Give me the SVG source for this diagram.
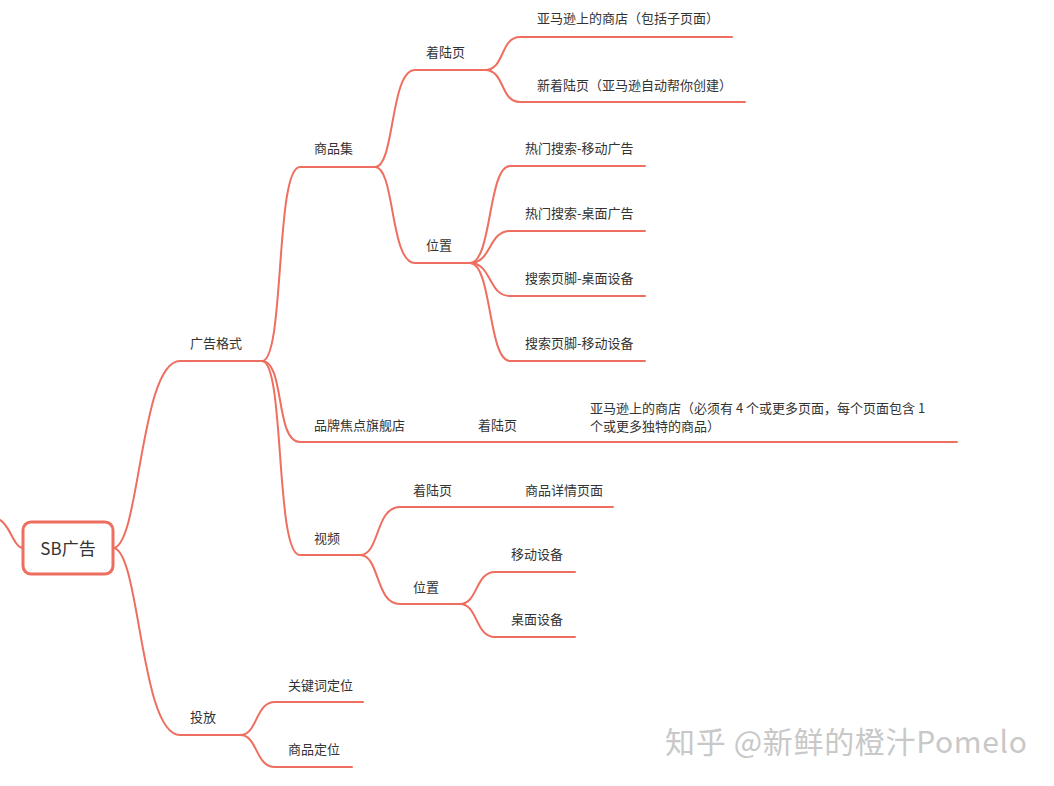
<svg xmlns="http://www.w3.org/2000/svg" width="1054" height="786" viewBox="0 0 1054 786">
<style>
.l{fill:none;stroke:#ee6e60;stroke-width:2;stroke-linecap:round}
.t{font-family:"Noto Sans CJK SC","Noto Sans",sans-serif;font-size:13px;fill:#333}
</style>
<rect width="1054" height="786" fill="#fff"/>
<g id="connectors">
<path class="l" d="M0,520 C10,525 14,548 23,548"/>
<path class="l" d="M113,548 C140,548 140,361 180,361 L262,361"/>
<path class="l" d="M113,548 C140,548 140,735 180,735 L240,735"/>
<path class="l" d="M262,361 C285,361 275,167 300,167 L375,167"/>
<path class="l" d="M262,361 C285,361 275,442 300,442 L957,442"/>
<path class="l" d="M262,361 C285,361 275,555 300,555 L360,555"/>
<path class="l" d="M375,167 C395,167 390,70 415,70 L485,70"/>
<path class="l" d="M375,167 C395,167 390,263 415,263 L470,263"/>
<path class="l" d="M485,70 C505,70 500,37 520,37 L732,37"/>
<path class="l" d="M485,70 C505,70 500,102 520,102 L745,102"/>
<path class="l" d="M470,263 C492,263 488,166 510,166 L645,166"/>
<path class="l" d="M470,263 C492,263 488,231 510,231 L645,231"/>
<path class="l" d="M470,263 C492,263 488,296 510,296 L645,296"/>
<path class="l" d="M470,263 C492,263 488,361 510,361 L645,361"/>
<path class="l" d="M360,555 C380,555 375,507 400,507 L613,507"/>
<path class="l" d="M360,555 C380,555 375,604 400,604 L460,604"/>
<path class="l" d="M460,604 C478,604 475,572 495,572 L575,572"/>
<path class="l" d="M460,604 C478,604 475,637 495,637 L575,637"/>
<path class="l" d="M240,735 C258,735 255,702 275,702 L363,702"/>
<path class="l" d="M240,735 C258,735 255,767 275,767 L352,767"/>
</g>
<g id="root"><rect x="23" y="522" width="90" height="52" rx="8" fill="#fff" stroke="#ee6e60" stroke-width="3"/><text x="68" y="555" text-anchor="middle" style="font-family:'Noto Sans CJK SC',sans-serif;font-size:17px;fill:#333">SB广告</text></g>
<g id="n1"><text class="t" x="190" y="348">广告格式</text></g>
<g id="n2"><text class="t" x="190" y="722">投放</text></g>
<g id="n3"><text class="t" x="314" y="153">商品集</text></g>
<g id="n4"><text class="t" x="314" y="430">品牌焦点旗舰店</text></g>
<g id="n5"><text class="t" x="314" y="543">视频</text></g>
<g id="n6"><text class="t" x="426" y="57">着陆页</text></g>
<g id="n7"><text class="t" x="426" y="250">位置</text></g>
<g id="n8"><text class="t" x="537" y="23">亚马逊上的商店（包括子页面）</text></g>
<g id="n9"><text class="t" x="537" y="90">新着陆页（亚马逊自动帮你创建）</text></g>
<g id="n10"><text class="t" x="525" y="153">热门搜索-移动广告</text></g>
<g id="n11"><text class="t" x="525" y="218">热门搜索-桌面广告</text></g>
<g id="n12"><text class="t" x="525" y="283">搜索页脚-桌面设备</text></g>
<g id="n13"><text class="t" x="525" y="348">搜索页脚-移动设备</text></g>
<g id="n14"><text class="t" x="478" y="430">着陆页</text></g>
<g id="n15"><text class="t" x="590" y="413">亚马逊上的商店（必须有 4 个或更多页面，每个页面包含 1</text><text class="t" x="590" y="431">个或更多独特的商品）</text></g>
<g id="n16"><text class="t" x="413" y="495">着陆页</text></g>
<g id="n17"><text class="t" x="525" y="495">商品详情页面</text></g>
<g id="n18"><text class="t" x="413" y="592">位置</text></g>
<g id="n19"><text class="t" x="511" y="559">移动设备</text></g>
<g id="n20"><text class="t" x="511" y="624">桌面设备</text></g>
<g id="n21"><text class="t" x="288" y="690">关键词定位</text></g>
<g id="n22"><text class="t" x="288" y="754">商品定位</text></g>
<text x="665" y="753" textLength="362" style="font-family:'Noto Sans CJK SC',sans-serif;font-size:30px;fill:#c8c8c8">知乎 @新鲜的橙汁Pomelo</text>
</svg>
